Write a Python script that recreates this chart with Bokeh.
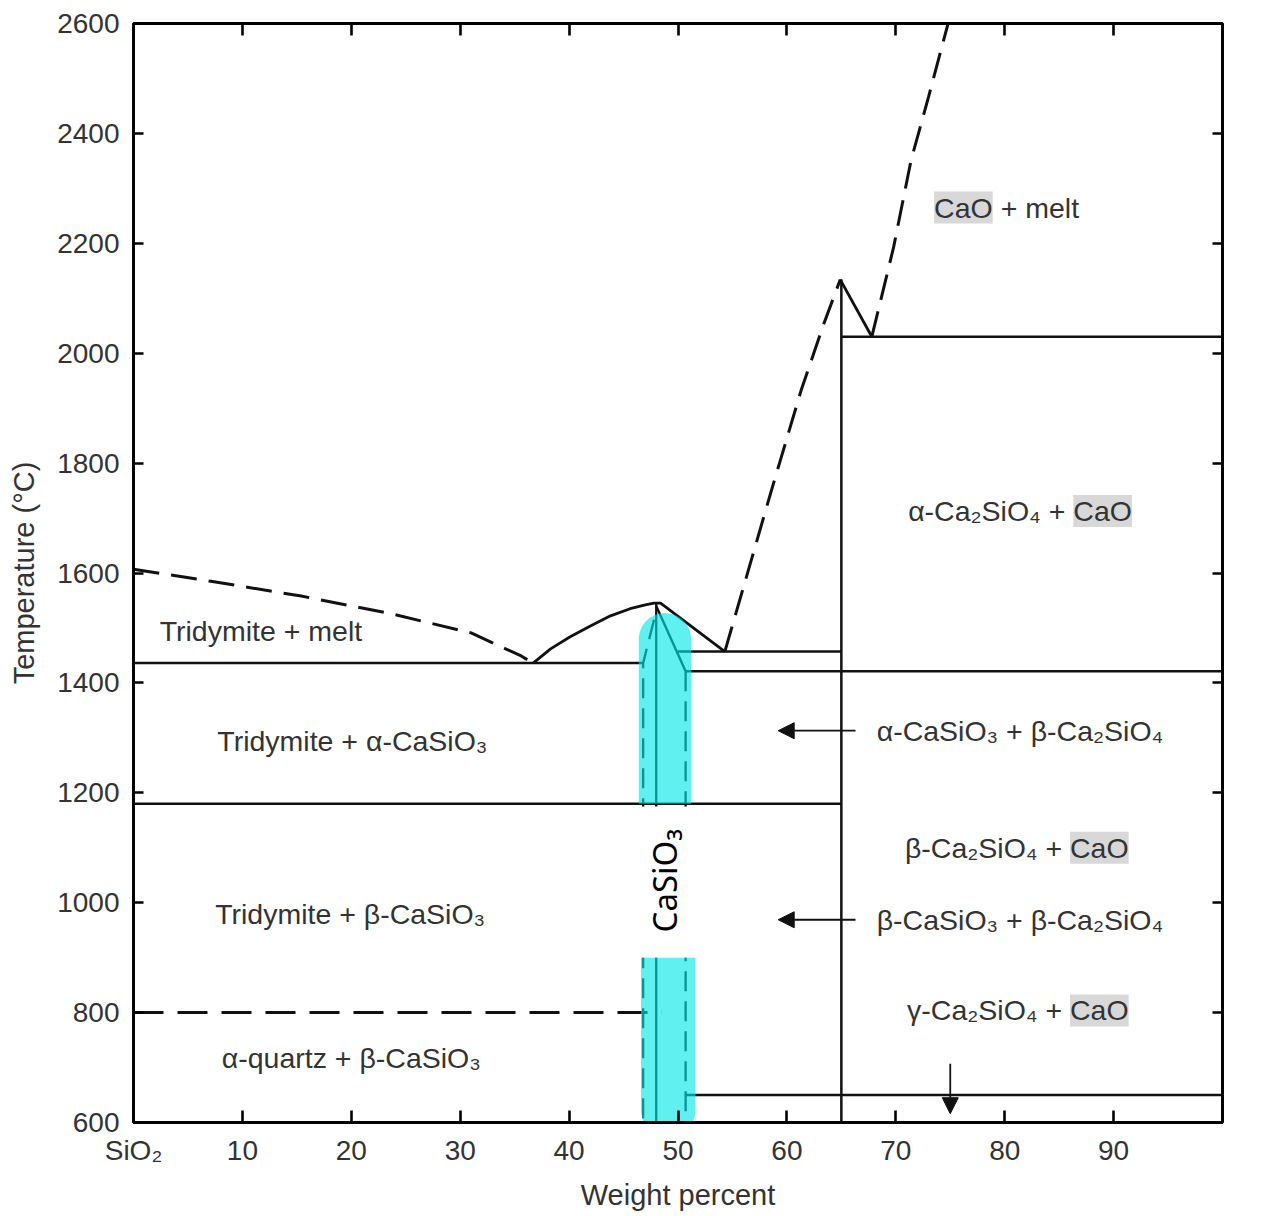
import math
from bokeh.plotting import figure
from bokeh.models import (Range1d, LinearAxis, FixedTicker, Label, Arrow,
                          NormalHead, CustomJSTickFormatter)
from bokeh.embed import file_html
from bokeh.resources import INLINE

# ---------------- data (wt% CaO, temperature °C) ----------------
T_TICKS = [600, 800, 1000, 1200, 1400, 1600, 1800, 2000, 2200, 2400, 2600]
X_TICKS = [0, 10, 20, 30, 40, 50, 60, 70, 80, 90]
X_TICK_NAMES = {0: "SiO₂"}
X_END_NAME = "CaO"

# liquidus curves
liq_trid_x = [0, 7.1, 15.4, 23.4, 31.0, 35.6, 36.7]
liq_trid_t = [1607, 1585, 1558, 1527, 1491, 1449, 1436]
liq_wo_x = [36.7, 38.3, 40.1, 42.0, 43.8, 45.6, 47.0, 47.8, 48.4, 54.3]
liq_wo_t = [1436, 1462, 1484, 1504, 1522, 1535, 1542, 1545, 1545, 1457]
liq_c2s_x = [54.3, 58.5, 61.3, 63.4, 64.9]
liq_c2s_t = [1457, 1745, 1932, 2054, 2134]
c2s_melt_x = [64.9, 67.8]
c2s_melt_t = [2134, 2030]
liq_lime_x = [67.8, 69.8, 71.4, 73.0, 74.8]
liq_lime_t = [2030, 2193, 2351, 2466, 2600]

# solid isotherms
iso_x0 = [0, 50.0, 50.7, 0, 65.0, 50.7]
iso_x1 = [46.8, 65.0, 100, 65.0, 100, 100]
iso_t = [1436, 1457, 1421, 1180, 2030, 650]
# dashed isotherm (tridymite / alpha-quartz)
quartz_x = [0, 48.5]
quartz_t = [800, 800]

# composition lines
wo_x = [48.0, 48.0]
wo_t = [1545, 600]
c2s_x = [65.0, 65.0]
c2s_t = [2134, 600]
wo_slope_x = [48.0, 50.7]
wo_slope_t = [1540, 1421]
wo_left_x = [47.8, 46.8, 46.8]
wo_left_t = [1515, 1436, 600]
wo_right_x = [50.7, 50.7]
wo_right_t = [1421, 600]

# highlight band around CaSiO3
hl_up_x = [46.4, 51.2]
hl_up_t = [1180, 1527]
hl_lo_x = [46.6, 51.6]
hl_lo_t = [900, 573]
mask_x = [45.6, 53.0]
mask_t = [900, 1175]
hl_name = "CaSiO₃"
hl_name_x = 48.8
hl_name_t = 1040

# field labels
plain_texts = ["Tridymite + melt", "Tridymite + α-CaSiO₃", "Tridymite + β-CaSiO₃",
               "α-quartz + β-CaSiO₃", "α-CaSiO₃ + β-Ca₂SiO₄", "β-CaSiO₃ + β-Ca₂SiO₄"]
plain_x = [11.7, 20.1, 19.9, 20.0, 81.4, 81.4]
plain_t = [1495, 1295, 980, 718, 1313, 969]

cao_prefix = ["α-Ca₂SiO₄ +", "β-Ca₂SiO₄ +", "γ-Ca₂SiO₄ +"]
cao_anchor_x = [86.3, 86.0, 86.0]
cao_t = [1713, 1100, 804]

melt_suffix = "+ melt"
melt_anchor_x = 78.9
melt_t = 2265

# arrows
arr_x0 = [66.3, 66.3, 75.0]
arr_x1 = [59.2, 59.2, 75.0]
arr_t0 = [1313, 969, 707]
arr_t1 = [1313, 969, 616]

# ---------------- figure ----------------
FONT = "Liberation Sans"
TXT = "#333333"
INK = "#111111"
GREY = "#d8d8d8"
CYAN = "#00e6e6"
W, H = 1262, 1214
ML, MT = 133, 23
MR = W - 1222
MB = H - 1122

p = figure(width=W, height=H, x_range=Range1d(0, 100), y_range=Range1d(600, 2600),
           output_backend="svg", toolbar_location=None,
           min_border_left=ML, min_border_right=MR, min_border_top=MT, min_border_bottom=MB)
p.xgrid.visible = False
p.ygrid.visible = False
p.outline_line_color = "black"
p.outline_line_width = 2.8
p.background_fill_color = "white"
p.border_fill_color = "white"

kx = (W - ML - MR) / 100.0      # px per wt%
kt = (H - MT - MB) / 2000.0     # px per °C

# axes
xa = p.xaxis[0]
xa.ticker = FixedTicker(ticks=X_TICKS)
xa.major_label_overrides = X_TICK_NAMES
xa.axis_label = "Weight percent"
ya = p.yaxis[0]
ya.ticker = FixedTicker(ticks=T_TICKS)
ya.axis_label = "Temperature (°C)"
for ax in (xa, ya):
    ax.major_label_text_font = FONT
    ax.major_label_text_font_size = "28px"
    ax.major_label_text_color = TXT
    ax.axis_label_text_font = FONT
    ax.axis_label_text_font_size = "29px"
    ax.axis_label_text_font_style = "normal"
    ax.axis_label_text_color = TXT
    ax.major_tick_out = 0
    ax.minor_tick_in = 0
    ax.minor_tick_out = 0
    ax.axis_line_width = 2.8
    ax.axis_line_color = "black"
    ax.major_tick_line_width = 2.6
    ax.major_tick_line_color = "black"
xa.major_tick_in = 12
xa.major_label_standoff = 12
xa.axis_label_standoff = 10
ya.major_tick_in = 10
ya.major_label_standoff = 14
ya.axis_label_standoff = 14

blank = CustomJSTickFormatter(code="return '';")
top_ax = LinearAxis(ticker=FixedTicker(ticks=X_TICKS[1:]), formatter=blank,
                    major_tick_in=12, major_tick_out=0, minor_tick_in=0, minor_tick_out=0,
                    major_label_standoff=0, major_label_text_font_size="8px",
                    axis_line_width=2.8, major_tick_line_width=2.6)
right_ax = LinearAxis(ticker=FixedTicker(ticks=T_TICKS), formatter=blank,
                      major_tick_in=10, major_tick_out=0, minor_tick_in=0, minor_tick_out=0,
                      major_label_standoff=0, major_label_text_font_size="8px",
                      axis_line_width=2.8, major_tick_line_width=2.6)
p.add_layout(top_ax, "above")
p.add_layout(right_ax, "right")

p.add_layout(Label(x=100, y=600, y_offset=-29, text=X_END_NAME, text_align="center",
                   text_baseline="middle", text_font=FONT, text_font_size="28px",
                   text_color=TXT, background_fill_color=GREY))

# ---------------- diagram lines ----------------
DASH = "26 12"
for xs, ts in ((liq_trid_x, liq_trid_t), (liq_c2s_x, liq_c2s_t), (liq_lime_x, liq_lime_t)):
    p.line(xs, ts, line_color=INK, line_width=3.0, line_dash=DASH)
p.line(liq_wo_x, liq_wo_t, line_color=INK, line_width=2.8, line_join="round")
p.line(c2s_melt_x, c2s_melt_t, line_color=INK, line_width=2.8)
p.segment(x0=iso_x0, y0=iso_t, x1=iso_x1, y1=iso_t, line_color=INK, line_width=2.5)
p.line(quartz_x, quartz_t, line_color=INK, line_width=3.0, line_dash="30 14")
p.line(wo_x, wo_t, line_color=INK, line_width=2.3)
p.line(c2s_x, c2s_t, line_color=INK, line_width=2.5)
p.line(wo_slope_x, wo_slope_t, line_color=INK, line_width=2.4)
p.line(wo_left_x, wo_left_t, line_color=INK, line_width=2.3, line_dash="20 10")
p.line(wo_right_x, wo_right_t, line_color=INK, line_width=2.3, line_dash="20 10")

# arrows
for xs0, xs1, ts0, ts1 in zip(arr_x0, arr_x1, arr_t0, arr_t1):
    p.add_layout(Arrow(end=NormalHead(size=16, fill_color=INK, line_color=INK, line_width=1),
                       x_start=xs0, y_start=ts0, x_end=xs1, y_end=ts1,
                       line_color=INK, line_width=1.8))

# ---------------- highlight band ----------------
p.quad(left=[mask_x[0]], right=[mask_x[1]], bottom=[mask_t[0]], top=[mask_t[1]],
       fill_color="white", line_color=None)


def capsule(xr, tr):
    """Band between xr, flat at tr[0], rounded end reaching tr[1]."""
    x0, x1 = xr
    t_flat, t_end = tr
    xc = (x0 + x1) / 2.0
    rx = (x1 - x0) / 2.0
    rt = rx * kx / kt
    sgn = 1 if t_end > t_flat else -1
    tc = t_end - sgn * rt
    xs = [x0, x0]
    ts = [t_flat, tc]
    for i in range(41):
        a = math.pi - math.pi * i / 40.0
        xs.append(xc + rx * math.cos(a))
        ts.append(tc + sgn * rt * math.sin(a))
    xs += [x1, x1]
    ts += [tc, t_flat]
    return xs, ts


ux, ut = capsule(hl_up_x, hl_up_t)
lx, lt = capsule(hl_lo_x, hl_lo_t)
p.patches([ux, lx], [ut, lt], fill_color=CYAN, fill_alpha=0.62, line_color=None)

p.add_layout(Label(x=hl_name_x, y=hl_name_t, text=hl_name, angle=math.pi / 2,
                   text_align="center", text_baseline="middle", text_font="Noto Sans",
                   text_font_size="33px", text_color="black"))

# ---------------- field labels ----------------
LFS = "28.5px"
for t, x, y in zip(plain_texts, plain_x, plain_t):
    p.add_layout(Label(x=x, y=y, text=t, text_align="center", text_baseline="middle",
                       text_font=FONT, text_font_size=LFS, text_color=TXT))

for t, x, y in zip(cao_prefix, cao_anchor_x, cao_t):
    p.add_layout(Label(x=x, y=y, x_offset=-8, text=t, text_align="right",
                       text_baseline="middle", text_font=FONT, text_font_size=LFS,
                       text_color=TXT))
    p.add_layout(Label(x=x, y=y, text=X_END_NAME, text_align="left",
                       text_baseline="middle", text_font=FONT, text_font_size=LFS,
                       text_color=TXT, background_fill_color=GREY))

p.add_layout(Label(x=melt_anchor_x, y=melt_t, text=X_END_NAME, text_align="right",
                   text_baseline="middle", text_font=FONT, text_font_size=LFS,
                   text_color=TXT, background_fill_color=GREY))
p.add_layout(Label(x=melt_anchor_x, y=melt_t, x_offset=8, text=melt_suffix, text_align="left",
                   text_baseline="middle", text_font=FONT, text_font_size=LFS,
                   text_color=TXT))

open("out.html", "w").write(file_html(p, INLINE))
